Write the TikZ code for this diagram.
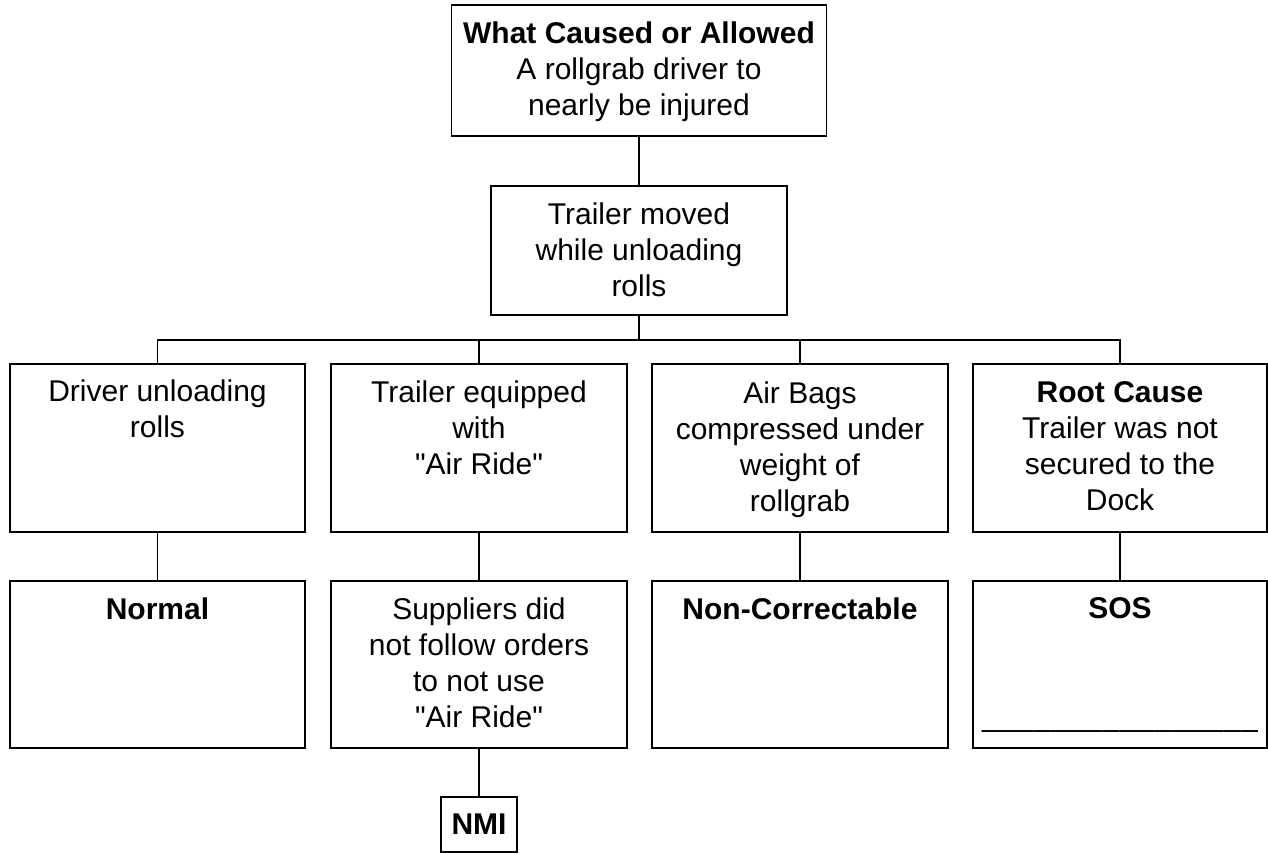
\documentclass[tikz,border=0pt]{standalone}
\usepackage{fontspec}
\setmainfont{Liberation Sans}[Ligatures=TeXOff]
\newcommand\usc{\_\kern0.6pt}
\begin{document}
\begin{tikzpicture}[x=1pt,y=-1pt,
  box/.style 2 args={draw, line width=1.8pt, rectangle, inner sep=0pt, minimum width=#1, minimum height=#2},
  txt/.style={anchor=north, inner sep=0pt, align=center, font=\fontsize{30}{36}\selectfont},
  conn/.style={line width=1.8pt}
]
\useasboundingbox (0,0) rectangle (1268,854);
% boxes
\node[box={375pt}{131pt}] (top) at (639,70.5) {};
\node[box={296pt}{129pt}] (mid) at (639,250.5) {};
\node[box={295pt}{168pt}] (b1) at (157.5,448) {};
\node[box={296pt}{168pt}] (b2) at (479,448) {};
\node[box={296pt}{168pt}] (b3) at (800,448) {};
\node[box={294pt}{168pt}] (b4) at (1120,448) {};
\node[box={295pt}{167pt}] (c1) at (157.5,664.5) {};
\node[box={296pt}{167pt}] (c2) at (479,664.5) {};
\node[box={296pt}{167pt}] (c3) at (800,664.5) {};
\node[box={294pt}{167pt}] (c4) at (1120,664.5) {};
\node[box={76pt}{55pt}] (nmi) at (479,824.5) {};
% texts
\node[txt] (ttop) at ([yshift=-17pt]top.north) {\textbf{What Caused or Allowed}\\A rollgrab driver to\\nearly be injured};
\node[txt] (tmid) at ([yshift=-17pt]mid.north) {Trailer moved\\while unloading\\rolls};
\node[txt] (tb1) at ([yshift=-16pt]b1.north) {Driver unloading\\rolls};
\node[txt] (tb2) at ([yshift=-17pt]b2.north) {Trailer equipped\\with\\"Air Ride"};
\node[txt] (tb3) at ([yshift=-18pt]b3.north) {Air Bags\\compressed under\\weight of\\rollgrab};
\node[txt] (tb4) at ([yshift=-18pt]b4.north) {\textbf{Root Cause}\\Trailer was not\\secured to the\\Dock};
\node[txt] (tc1) at ([yshift=-17pt]c1.north) {\textbf{Normal}};
\node[txt] (tc2) at ([yshift=-17pt]c2.north) {Suppliers did\\not follow orders\\to not use\\"Air Ride"};
\node[txt] (tc3) at ([yshift=-17pt]c3.north) {\textbf{Non-Correctable}};
\node[txt] (tc4) at ([yshift=-17pt]c4.north) {\textbf{SOS}\\[72pt]\usc\usc\usc\usc\usc\usc\usc\usc\usc\usc\usc\usc\usc\usc\usc\_};
\node[txt] (tnmi) at ([yshift=-18pt]nmi.north) {\textbf{NMI}};
% connectors
\coordinate (bus) at (639,340);
\draw[conn] (top.south) -- (mid.north);
\draw[conn] (mid.south) -- (bus);
\draw[conn] (b1.north) -- (b1.north |- bus) -- (b4.north |- bus) -- (b4.north);
\draw[conn] (b2.north) -- (b2.north |- bus);
\draw[conn] (b3.north) -- (b3.north |- bus);
\draw[conn] (b1.south) -- (c1.north);
\draw[conn] (b2.south) -- (c2.north);
\draw[conn] (b3.south) -- (c3.north);
\draw[conn] (b4.south) -- (c4.north);
\draw[conn] (c2.south) -- (nmi.north);
\end{tikzpicture}
\end{document}
